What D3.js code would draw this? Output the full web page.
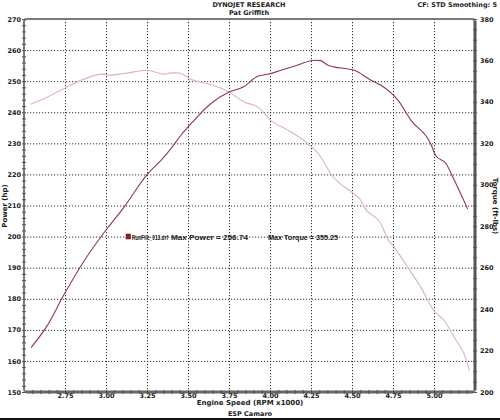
<!DOCTYPE html>
<html>
<head>
<meta charset="utf-8">
<script src="https://cdn.jsdelivr.net/npm/d3@7"></script>
<style>
  body { margin: 0; background: #fff; overflow: hidden; }
  svg { display: block; }
  svg text { font-family: "DejaVu Sans", Verdana, sans-serif; font-weight: bold; fill: #222; }
  svg text.legend { font-family: "Liberation Sans Narrow", "Liberation Sans", sans-serif; }
</style>
</head>
<body>
<svg width="500" height="420"></svg>
<script>
const svg = d3.select('svg');
const width = +svg.attr('width');
const height = +svg.attr('height');

// rpm x1000
const powerRpm = [2.543, 2.634, 2.746, 2.868, 2.99, 3.11, 3.254, 3.335, 3.396, 3.457, 3.52, 3.64, 3.75, 3.84,
  3.925, 3.986, 4.067, 4.17, 4.27, 4.31, 4.35, 4.39, 4.514, 4.616, 4.677, 4.78, 4.86, 4.98, 5.01, 5.073, 5.124, 5.205];
const powerHp = [164.3, 170.7, 181.5, 192.3, 201.4, 209.5, 220.2, 224.5, 228.3, 232.6, 236.4, 242.8, 246.5, 248.2,
  251.6, 252.2, 253.5, 255.2, 256.74, 256.6, 255.2, 254.6, 253.5, 250.3, 248.7, 243.9, 237.4, 229.9, 226.1, 223.5, 218.1, 208.9];

const torqueRpm = [2.54, 2.645, 2.745, 2.85, 2.98, 3.02, 3.11, 3.25, 3.355, 3.396, 3.437, 3.457, 3.52, 3.6, 3.75,
  3.84, 3.925, 4.006, 4.11, 4.23, 4.31, 4.37, 4.51, 4.555, 4.575, 4.677, 4.717, 4.758, 4.84, 4.92, 5.0, 5.063, 5.124, 5.205, 5.215];
const torqueFt = [338.9, 342.4, 346.5, 350.5, 353.4, 352.9, 353.7, 355.25, 353.4, 354, 354, 353.7, 350.8, 349.2, 344.8,
  340, 337.6, 331.1, 326.3, 319.9, 313.4, 305.3, 295.7, 292.4, 289.2, 281.1, 273.9, 269.8, 260.2, 250.5, 239.2, 234.4, 226.3, 213.4, 210.2];

const xTicks = [2.75, 3.0, 3.25, 3.5, 3.75, 4.0, 4.25, 4.5, 4.75, 5.0];
const powerTicks = [150, 160, 170, 180, 190, 200, 210, 220, 230, 240, 250, 260, 270];
const torqueTicks = [200, 220, 240, 260, 280, 300, 320, 340, 360, 380];

const margin = { top: 19, bottom: 28, left: 24, right: 25 };
const innerWidth = width - margin.left - margin.right;
const innerHeight = height - margin.top - margin.bottom;

const xScale = d3.scaleLinear().domain([2.5, 5.25]).range([0, innerWidth]);
const yScale = d3.scaleLinear().domain([150, 270]).range([innerHeight, 0]);
const y2Scale = d3.scaleLinear().domain([200, 380]).range([innerHeight, 0]);

const g = svg.append('g').attr('transform', `translate(${margin.left}, ${margin.top})`);

// axis helpers
const bare = s => { s.select('.domain').remove(); s.selectAll('text').remove(); };
const labels = s => {
  s.attr('font-size', null).attr('font-family', null).style('font-size', '6.5px');
  s.select('.domain').remove();
  s.selectAll('text').attr('fill', '#222');
};

// grid
g.append('g')
  .call(d3.axisBottom(xScale).tickValues(xTicks).tickSize(innerHeight))
  .call(bare)
  .selectAll('line').attr('stroke', '#333').attr('stroke-dasharray', '1.2,1.8');
g.append('g')
  .call(d3.axisLeft(yScale).tickValues(powerTicks.slice(1, -1)).tickSize(-innerWidth))
  .call(bare)
  .selectAll('line').attr('stroke', '#333').attr('stroke-dasharray', '1.2,1.8');

// curves
const torqueLine = d3.line().x((d, i) => xScale(torqueRpm[i])).y(d => y2Scale(d)).curve(d3.curveMonotoneX);
const powerLine = d3.line().x((d, i) => xScale(powerRpm[i])).y(d => yScale(d)).curve(d3.curveMonotoneX);

g.append('path').attr('d', torqueLine(torqueFt))
  .attr('fill', 'none').attr('stroke', '#dcb4ba').attr('stroke-width', 1.1);
g.append('path').attr('d', powerLine(powerHp))
  .attr('fill', 'none').attr('stroke', '#8e3a48').attr('stroke-width', 1.1);

// frame
g.append('rect').attr('x', 0).attr('y', 0).attr('width', innerWidth).attr('height', innerHeight)
  .attr('rx', 3).attr('fill', 'none').attr('stroke', '#7a7a7a').attr('stroke-width', 2);
g.append('line').attr('x1', innerWidth).attr('x2', innerWidth).attr('y1', 2).attr('y2', innerHeight - 2)
  .attr('stroke', '#555').attr('stroke-width', 3);
g.append('line').attr('x1', 2).attr('x2', innerWidth - 2).attr('y1', innerHeight).attr('y2', innerHeight)
  .attr('stroke', '#666').attr('stroke-width', 3);

// minor ticks
const minorStyle = s => s.call(bare).selectAll('line').attr('stroke', '#555').attr('stroke-width', 1);
g.append('g').attr('transform', 'translate(2,0)')
  .call(d3.axisLeft(yScale).tickValues(d3.range(150, 271, 2)).tickSize(4))
  .call(minorStyle);
g.append('g').attr('transform', `translate(${innerWidth + 2},0)`)
  .call(d3.axisLeft(y2Scale).tickValues(d3.range(200, 381, 5)).tickSize(4))
  .call(minorStyle);
g.append('g').attr('transform', `translate(0,${innerHeight + 2})`)
  .call(d3.axisTop(xScale).tickValues(d3.range(2.55, 5.25, 0.05)).tickSize(4))
  .call(minorStyle);

// tick labels
g.append('g')
  .call(d3.axisLeft(yScale).tickValues(powerTicks).tickSize(0).tickPadding(3).tickFormat(d3.format('d')))
  .call(labels);
g.append('g').attr('transform', `translate(${innerWidth},0)`)
  .call(d3.axisRight(y2Scale).tickValues(torqueTicks).tickSize(0).tickPadding(5).tickFormat(d3.format('d')))
  .call(labels);
g.append('g').attr('transform', `translate(0,${innerHeight})`)
  .call(d3.axisBottom(xScale).tickValues(xTicks).tickSize(0).tickPadding(1).tickFormat(d3.format('.2f')))
  .call(labels);

// axis titles
svg.append('text').attr('transform', 'translate(7, 206) rotate(-90)')
  .attr('text-anchor', 'middle').style('font-size', '7px').text('Power (hp)');
svg.append('text').attr('transform', 'translate(493, 206) rotate(90)')
  .attr('text-anchor', 'middle').style('font-size', '7px').text('Torque (ft-lbs)');
svg.append('text').attr('x', 250).attr('y', 405).attr('text-anchor', 'middle')
  .style('font-size', '7px').text('Engine Speed (RPM x1000)');
svg.append('text').attr('x', 250).attr('y', 416).attr('text-anchor', 'middle')
  .style('font-size', '6.5px').text('ESP Camaro');
svg.append('text').attr('x', 249).attr('y', 7).attr('text-anchor', 'middle')
  .style('font-size', '6.5px').text('DYNOJET RESEARCH');
svg.append('text').attr('x', 249).attr('y', 15).attr('text-anchor', 'middle')
  .style('font-size', '6.5px').text('Pat Griffith');
svg.append('text').attr('x', 497).attr('y', 7).attr('text-anchor', 'end')
  .style('font-size', '6.5px').text('CF: STD  Smoothing: 5');

// legend
const maxPower = d3.max(powerHp);
const maxTorque = d3.max(torqueFt);
svg.append('rect').attr('x', 126).attr('y', 234).attr('width', 4.5).attr('height', 5)
  .attr('fill', '#a02020').attr('stroke', '#400').attr('stroke-width', 0.5);
svg.append('text').attr('class', 'legend').attr('x', 132).attr('y', 239.5).style('font-size', '6.5px')
  .attr('textLength', 36).attr('lengthAdjust', 'spacingAndGlyphs').text('RunFile_013.drf');
svg.append('text').attr('class', 'legend').attr('x', 171).attr('y', 239.5).style('font-size', '6.5px')
  .attr('textLength', 77).attr('lengthAdjust', 'spacingAndGlyphs')
  .text(`Max Power = ${maxPower.toFixed(2)}`);
svg.append('text').attr('class', 'legend').attr('x', 268).attr('y', 239.5).style('font-size', '6.5px')
  .attr('textLength', 70).attr('lengthAdjust', 'spacingAndGlyphs')
  .text(`Max Torque = ${maxTorque.toFixed(2)}`);

// bottom bar
svg.append('rect').attr('x', 0).attr('y', 418).attr('width', width).attr('height', 2).attr('fill', '#111');
</script>
</body>
</html>
